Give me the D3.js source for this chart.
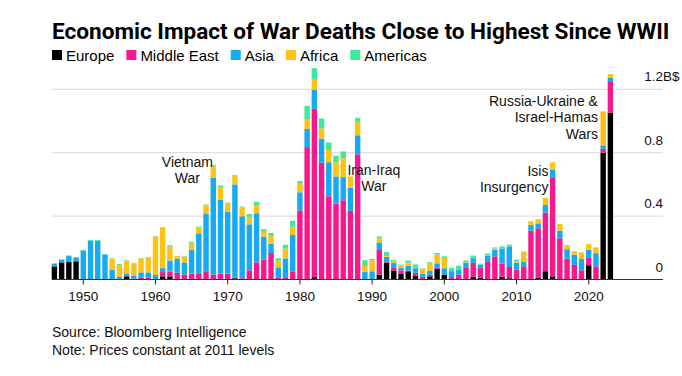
<!DOCTYPE html>
<html>
<head>
<meta charset="utf-8">
<script src="https://cdn.jsdelivr.net/npm/d3@7"></script>
<style>
  body { margin: 0; background: #fff; }
  svg { display: block; font-family: "Liberation Sans", Arial, Helvetica, sans-serif; }
</style>
</head>
<body>
<div id="chart"></div>
<script>
// years 1946..2023, values in billions of 2011 dollars
const years = d3.range(1946, 2024);

const europe = [
  0.083, 0.108, 0.110, 0.115, 0, 0, 0, 0, 0, 0,
  0.020, 0, 0, 0, 0, 0.020, 0.020, 0, 0, 0,
  0, 0, 0, 0, 0, 0.008, 0.005, 0, 0, 0,
  0, 0, 0, 0, 0, 0, 0.015, 0, 0, 0,
  0, 0, 0, 0, 0, 0.031, 0.105, 0.057, 0.038, 0.052,
  0.025, 0, 0.020, 0.067, 0.031, 0, 0, 0, 0.017, 0.012,
  0, 0, 0.017, 0.008, 0, 0, 0, 0.010, 0.052, 0.020,
  0, 0, 0, 0, 0.090, 0, 0.800, 1.052
];
const middleEast = [
  0, 0, 0, 0, 0, 0, 0, 0, 0, 0,
  0.003, 0.004, 0.010, 0.010, 0.003, 0.027, 0.031, 0.042, 0.031, 0.037,
  0.035, 0.048, 0.031, 0.037, 0.037, 0.004, 0.004, 0.058, 0.108, 0.125,
  0.167, 0.010, 0.010, 0.048, 0.435, 0.835, 1.062, 0.737, 0.525, 0.479,
  0.500, 0.433, 0.790, 0, 0, 0.160, 0.005, 0.020, 0.020, 0.005,
  0.017, 0.017, 0.010, 0.010, 0, 0.015, 0.031, 0.073, 0.088, 0.060,
  0.115, 0.146, 0.083, 0.071, 0.063, 0.083, 0.308, 0.313, 0.370, 0.625,
  0.260, 0.131, 0.092, 0.058, 0.046, 0.083, 0.025, 0.194
];
const asia = [
  0.017, 0.017, 0.038, 0.025, 0.183, 0.244, 0.244, 0.158, 0.062, 0.017,
  0.015, 0.018, 0.035, 0.035, 0.025, 0.025, 0.069, 0.088, 0.077, 0.150,
  0.256, 0.365, 0.610, 0.467, 0.390, 0.588, 0.390, 0.290, 0.310, 0.146,
  0.060, 0.067, 0.123, 0.233, 0.115, 0.115, 0.120, 0.152, 0.215, 0.171,
  0.146, 0.146, 0.120, 0.050, 0.052, 0.043, 0.033, 0.027, 0.017, 0.030,
  0.030, 0.020, 0.025, 0.025, 0.040, 0.038, 0.031, 0.031, 0.029, 0.021,
  0.035, 0.042, 0.096, 0.129, 0.042, 0.031, 0.035, 0.031, 0.048, 0.046,
  0.048, 0.060, 0.065, 0.071, 0.052, 0.083, 0.021, 0.029
];
const africa = [
  0, 0, 0, 0, 0, 0, 0, 0, 0.070, 0.075,
  0.080, 0.080, 0.088, 0.094, 0.244, 0.256, 0.088, 0.017, 0.037, 0.042,
  0.037, 0.056, 0.073, 0.079, 0.052, 0.052, 0.056, 0.048, 0.048, 0.030,
  0.048, 0.042, 0.063, 0.052, 0.054, 0.058, 0.063, 0.065, 0.077, 0.090,
  0.120, 0.071, 0.083, 0.035, 0.070, 0.026, 0.005, 0.015, 0.013, 0.020,
  0.004, 0.030, 0.050, 0.055, 0.065, 0, 0, 0.004, 0, 0,
  0, 0.008, 0, 0, 0.010, 0.063, 0.025, 0.027, 0.046, 0.048,
  0.042, 0.027, 0.021, 0.042, 0.035, 0.037, 0.215, 0.021
];
const americas = [
  0.003, 0.003, 0.004, 0.002, 0.004, 0.006, 0.006, 0.003, 0.002, 0.006,
  0.003, 0.002, 0.003, 0.003, 0.002, 0.002, 0.008, 0.002, 0.002, 0.008,
  0.006, 0.004, 0.008, 0.010, 0.006, 0.006, 0.005, 0.017, 0.023, 0.017,
  0.019, 0.015, 0.023, 0.037, 0.017, 0.088, 0.073, 0.062, 0.048, 0.040,
  0.042, 0, 0.027, 0.037, 0.008, 0.012, 0.025, 0.006, 0.006, 0.013,
  0.019, 0.003, 0.005, 0.010, 0.010, 0.020, 0.025, 0.012, 0.017, 0.007,
  0.013, 0.006, 0.013, 0.012, 0.010, 0, 0, 0, 0, 0,
  0, 0, 0, 0, 0, 0, 0, 0
];

const regions = ["Europe", "Middle East", "Asia", "Africa", "Americas"];
const colors = ["#000000", "#f5188e", "#16aaf2", "#fcc214", "#3ee89c"];
const yTicks = [0, 0.4, 0.8, 1.2];
const decades = [1950, 1960, 1970, 1980, 1990, 2000, 2010, 2020];

const W = 682, H = 376;
const plotLeft = 52, plotRight = 663, plotTop = 89.3, plotBottom = 279.5;

const svg = d3.select("#chart").append("svg")
    .attr("width", W).attr("height", H);

// title, fitted to the width it takes in the original
const title = svg.append("text")
    .attr("x", plotLeft).attr("y", 39)
    .style("font-family", "Roboto, 'Liberation Sans', Arial, sans-serif")
    .style("font-size", "21px").style("font-weight", "bold").attr("fill", "#000")
    .text("Economic Impact of War Deaths Close to Highest Since WWII");
const tw = title.node().getComputedTextLength();
title.style("font-size", (21 * 618 / tw) + "px");

// legend
let lx = plotLeft;
regions.forEach((r, i) => {
    svg.append("rect").attr("x", lx).attr("y", 50).attr("width", 10).attr("height", 10).attr("fill", colors[i]);
    const t = svg.append("text").attr("x", lx + 14).attr("y", 60.5)
        .style("font-size", "15px").attr("fill", "#000").text(r);
    lx += 14 + t.node().getComputedTextLength() + 12;
});

const table = years.map((yr, i) => ({
    year: yr, "Europe": europe[i], "Middle East": middleEast[i], "Asia": asia[i],
    "Africa": africa[i], "Americas": americas[i]
}));
const series = d3.stack().keys(regions)(table);

const x = d3.scaleBand().domain(years).range([50.8, 614]).paddingInner(0.25).paddingOuter(0.125);
const y = d3.scaleLinear().domain([0, 1.2]).range([plotBottom, plotTop]);

// grid
svg.append("g").selectAll("line").data(yTicks.filter(d => d > 0)).enter().append("line")
    .attr("x1", plotLeft).attr("x2", plotRight)
    .attr("y1", d => y(d)).attr("y2", d => y(d))
    .attr("stroke", "#d8d8d8").attr("stroke-width", 1);

// y labels (number right-aligned at the grid end, unit hangs out)
svg.append("g").selectAll("text").data(yTicks).enter().append("text")
    .attr("x", plotRight).attr("y", d => y(d) - 8)
    .attr("text-anchor", "end").style("font-size", "13.5px").attr("fill", "#111")
    .text(d => d === 0 ? "0" : d3.format(".1f")(d));
svg.append("text").attr("x", plotRight).attr("y", y(1.2) - 8)
    .style("font-size", "13.5px").attr("fill", "#111").text("B$");

// bars
svg.append("g").selectAll("g").data(series).enter().append("g")
    .attr("fill", (d, i) => colors[i])
  .selectAll("rect").data(d => d).enter().append("rect")
    .attr("x", d => x(d.data.year))
    .attr("width", x.bandwidth())
    .attr("y", d => y(d[1]))
    .attr("height", d => Math.max(0, y(d[0]) - y(d[1])));

// x axis
const xAxis = svg.append("g").attr("transform", `translate(0,${plotBottom})`)
    .call(d3.axisBottom(x).tickValues(decades).tickSize(5).tickPadding(7));
xAxis.select(".domain").remove();
xAxis.selectAll("text").style("font-size", "13.5px").style("font-family", "inherit").attr("fill", "#111");
xAxis.selectAll("line").attr("stroke", "#222");
svg.append("line").attr("x1", plotLeft).attr("x2", plotRight).attr("y1", plotBottom).attr("y2", plotBottom)
    .attr("stroke", "#333").attr("stroke-width", 1);

// annotations
const notes = [
    { lines: ["Vietnam", "War"], year: 1964, dx: 3, v: 0.71, anchor: "middle" },
    { lines: ["Iran-Iraq", "War"], year: 1989, dx: 9, v: 0.66, anchor: "middle" },
    { lines: ["Isis", "Insurgency"], year: 2014, dx: 3, v: 0.655, anchor: "end" },
    { lines: ["Russia-Ukraine &", "Israel-Hamas", "Wars"], year: 2021, dx: 2, v: 1.095, anchor: "end" }
];
notes.forEach(n => {
    const t = svg.append("text")
        .attr("x", x(n.year) + x.bandwidth() / 2 + n.dx)
        .attr("y", y(n.v))
        .attr("text-anchor", n.anchor)
        .style("font-size", "14px").attr("fill", "#111");
    n.lines.forEach((l, i) => {
        t.append("tspan").attr("x", x(n.year) + x.bandwidth() / 2 + n.dx)
            .attr("dy", i === 0 ? 0 : 16.5).text(l);
    });
});

// footer
svg.append("text").attr("x", plotLeft).attr("y", 337).style("font-size", "14px").attr("fill", "#111")
    .text("Source: Bloomberg Intelligence");
svg.append("text").attr("x", plotLeft).attr("y", 355).style("font-size", "14px").attr("fill", "#111")
    .text("Note: Prices constant at 2011 levels");
</script>
</body>
</html>
